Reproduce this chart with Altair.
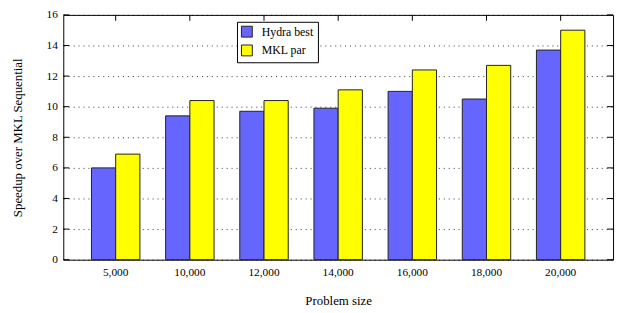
import altair as alt
import pandas as pd

sizes = ["5,000", "10,000", "12,000", "14,000", "16,000", "18,000", "20,000"]
hydra_best = [6.0, 9.4, 9.7, 9.9, 11.0, 10.5, 13.7]
mkl_par = [6.9, 10.4, 10.4, 11.1, 12.4, 12.7, 15.0]
series = ["Hydra best", "MKL par"]
colors = ["#6666ff", "#ffff00"]
yticks = [0, 2, 4, 6, 8, 10, 12, 14, 16]

rows = []
for s, h, m in zip(sizes, hydra_best, mkl_par):
    rows.append({"size": s, "series": series[0], "value": h})
    rows.append({"size": s, "series": series[1], "value": m})
df = pd.DataFrame(rows)
tick_df = pd.DataFrame({"v": yticks})
cat_df = pd.DataFrame({"size": sizes})

W, H = 557, 248
FONT = "Liberation Serif"
TL = 6  # tick length

xscale = alt.Scale(domain=sizes, paddingInner=0.3467, paddingOuter=0.38)
yscale = alt.Scale(domain=[0, 16], nice=False)

xaxis = alt.Axis(title="Problem size", labelAngle=0, ticks=False, domain=False,
                 labelPadding=7, titlePadding=17, labelFontSize=11.5, titleFontSize=13,
                 labelOverlap=False)
yaxis = alt.Axis(values=yticks, title="Speedup over MKL Sequential", grid=True,
                 gridDash=[1, 4], gridColor="#000000", gridOpacity=0.8, gridWidth=1,
                 ticks=False, domain=False, labelPadding=6, titlePadding=22,
                 labelFontSize=11.5, titleFontSize=13, labelOverlap=False)

bars = alt.Chart(df).mark_bar(stroke="#222222", strokeWidth=1).encode(
    x=alt.X("size:N", scale=xscale, sort=sizes, axis=xaxis),
    xOffset=alt.XOffset("series:N", sort=series, scale=alt.Scale(paddingInner=0, paddingOuter=0)),
    y=alt.Y("value:Q", scale=yscale, axis=yaxis),
    color=alt.Color("series:N", scale=alt.Scale(domain=series, range=colors),
                    legend=alt.Legend(title=None, orient="none", legendX=176, legendY=7,
                                      strokeColor="black", fillColor="white", padding=4,
                                      symbolType="square", symbolSize=121,
                                      symbolStrokeColor="#222222", symbolStrokeWidth=1,
                                      labelFont=FONT, labelFontSize=12, labelOffset=9,
                                      rowPadding=3, labelColor="black")),
)

left_ticks = alt.Chart(tick_df).mark_rule(color="black", strokeWidth=1).encode(
    y=alt.Y("v:Q", scale=yscale, axis=yaxis), x=alt.value(0), x2=alt.value(TL))
right_ticks = alt.Chart(tick_df).mark_rule(color="black", strokeWidth=1).encode(
    y=alt.Y("v:Q", scale=yscale, axis=yaxis), x=alt.value(W - TL), x2=alt.value(W))
top_ticks = alt.Chart(cat_df).mark_rule(color="black", strokeWidth=1).encode(
    x=alt.X("size:N", scale=xscale, sort=sizes, axis=xaxis), y=alt.value(0), y2=alt.value(TL))

chart = alt.layer(bars, left_ticks, right_ticks, top_ticks).properties(
    width=W, height=H,
    autosize=alt.AutoSizeParams(type="none"),
    padding={"left": 56, "top": 5, "right": 5, "bottom": 49},
).configure_view(
    stroke="black", strokeWidth=1
).configure_axis(
    labelFont=FONT, titleFont=FONT, labelColor="black", titleColor="black",
    titleFontWeight="normal"
).configure_legend(
    labelFont=FONT
)

chart.save("out.html", embed_options={"renderer": "svg", "actions": False})
